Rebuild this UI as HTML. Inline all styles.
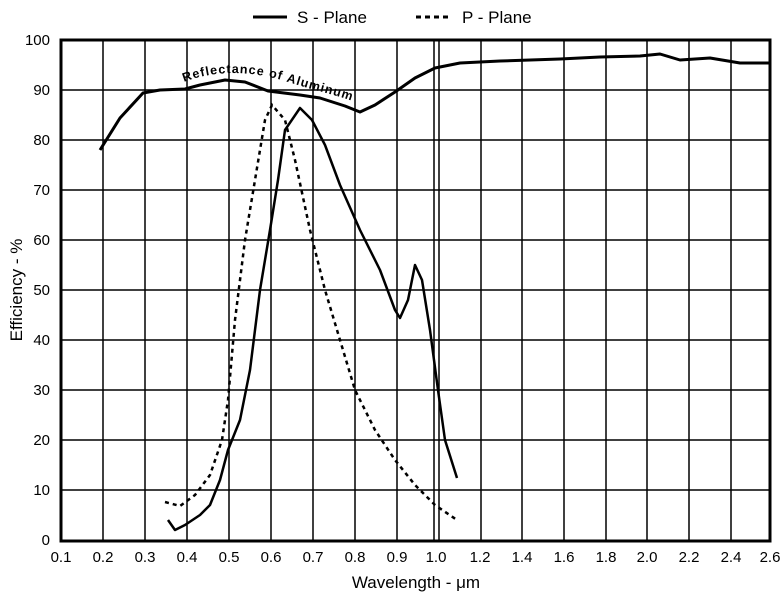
<!DOCTYPE html>
<html><head><style>body{margin:0;background:#fff}svg{display:block;font-family:"Liberation Sans",sans-serif}</style></head><body>
<svg width="783" height="600" viewBox="0 0 783 600">
<g stroke="#000" stroke-width="1.5">
<line x1="103" y1="40" x2="103" y2="541"/><line x1="145" y1="40" x2="145" y2="541"/><line x1="187" y1="40" x2="187" y2="541"/><line x1="229" y1="40" x2="229" y2="541"/><line x1="271" y1="40" x2="271" y2="541"/><line x1="313" y1="40" x2="313" y2="541"/><line x1="355" y1="40" x2="355" y2="541"/><line x1="397" y1="40" x2="397" y2="541"/><line x1="434" y1="40" x2="434" y2="541"/><line x1="439" y1="40" x2="439" y2="541"/><line x1="481" y1="40" x2="481" y2="541"/><line x1="522" y1="40" x2="522" y2="541"/><line x1="564" y1="40" x2="564" y2="541"/><line x1="606" y1="40" x2="606" y2="541"/><line x1="647" y1="40" x2="647" y2="541"/><line x1="689" y1="40" x2="689" y2="541"/><line x1="731" y1="40" x2="731" y2="541"/>
<line x1="61" y1="90" x2="770" y2="90"/><line x1="61" y1="140" x2="770" y2="140"/><line x1="61" y1="190" x2="770" y2="190"/><line x1="61" y1="240" x2="770" y2="240"/><line x1="61" y1="290" x2="770" y2="290"/><line x1="61" y1="340" x2="770" y2="340"/><line x1="61" y1="390" x2="770" y2="390"/><line x1="61" y1="440" x2="770" y2="440"/><line x1="61" y1="490" x2="770" y2="490"/>
</g>
<rect x="61" y="40" width="709" height="501" fill="none" stroke="#000" stroke-width="3"/>
<path d="M100,150 L120,118 L143,93 L160,90 L185,89 L200,85 L225,80 L245,82 L268,91 L300,95 L320,98 L345,106 L360,112 L375,105 L395,92 L415,78 L435,68 L460,63 L500,61 L560,59 L600,57 L640,56 L660,54 L680,60 L710,58 L740,63 L770,63" fill="none" stroke="#000" stroke-width="3" stroke-linejoin="round"/>
<path id="lab" d="M184,82 C215,70 250,70 288,82 S335,94 360,104" fill="none"/>
<text font-size="12.5" font-weight="bold"><textPath href="#lab" textLength="172" lengthAdjust="spacing">Reflectance  of  Aluminum</textPath></text>
<polyline points="168,520 175,530 185,525 200,515 210,505 220,480 228,450 240,420 250,370 260,290 270,230 278,180 285,130 300,108 312,120 325,145 340,185 360,230 380,270 395,310 400,318 408,300 415,265 422,280 430,330 438,390 445,440 457,478" fill="none" stroke="#000" stroke-width="2.5" stroke-linejoin="round"/>
<polyline points="165,502 180,506 195,495 210,475 222,440 228,400 235,320 245,240 255,180 265,120 272,105 285,120 295,160 310,230 325,290 340,340 355,390 375,430 395,460 415,485 435,505 457,520" fill="none" stroke="#000" stroke-width="2.5" stroke-dasharray="4,4"/>
<g font-size="15" text-anchor="end"><text x="50" y="45">100</text><text x="50" y="95">90</text><text x="50" y="145">80</text><text x="50" y="195">70</text><text x="50" y="245">60</text><text x="50" y="295">50</text><text x="50" y="345">40</text><text x="50" y="395">30</text><text x="50" y="445">20</text><text x="50" y="495">10</text><text x="50" y="545">0</text></g>
<g font-size="15" text-anchor="middle"><text x="61" y="562">0.1</text><text x="103" y="562">0.2</text><text x="145" y="562">0.3</text><text x="187" y="562">0.4</text><text x="229" y="562">0.5</text><text x="271" y="562">0.6</text><text x="313" y="562">0.7</text><text x="355" y="562">0.8</text><text x="397" y="562">0.9</text><text x="436" y="562">1.0</text><text x="480" y="562">1.2</text><text x="522" y="562">1.4</text><text x="564" y="562">1.6</text><text x="606" y="562">1.8</text><text x="647" y="562">2.0</text><text x="689" y="562">2.2</text><text x="731" y="562">2.4</text><text x="770" y="562">2.6</text></g>
<text x="416" y="588" font-size="17" text-anchor="middle">Wavelength - μm</text>
<text transform="translate(22,290) rotate(-90)" font-size="17" text-anchor="middle">Efficiency - %</text>
<line x1="253" y1="17" x2="287" y2="17" stroke="#000" stroke-width="3"/>
<text x="297" y="23" font-size="17">S - Plane</text>
<line x1="416" y1="17" x2="450" y2="17" stroke="#000" stroke-width="3" stroke-dasharray="5,4"/>
<text x="462" y="23" font-size="17">P - Plane</text>
</svg>
</body></html>
